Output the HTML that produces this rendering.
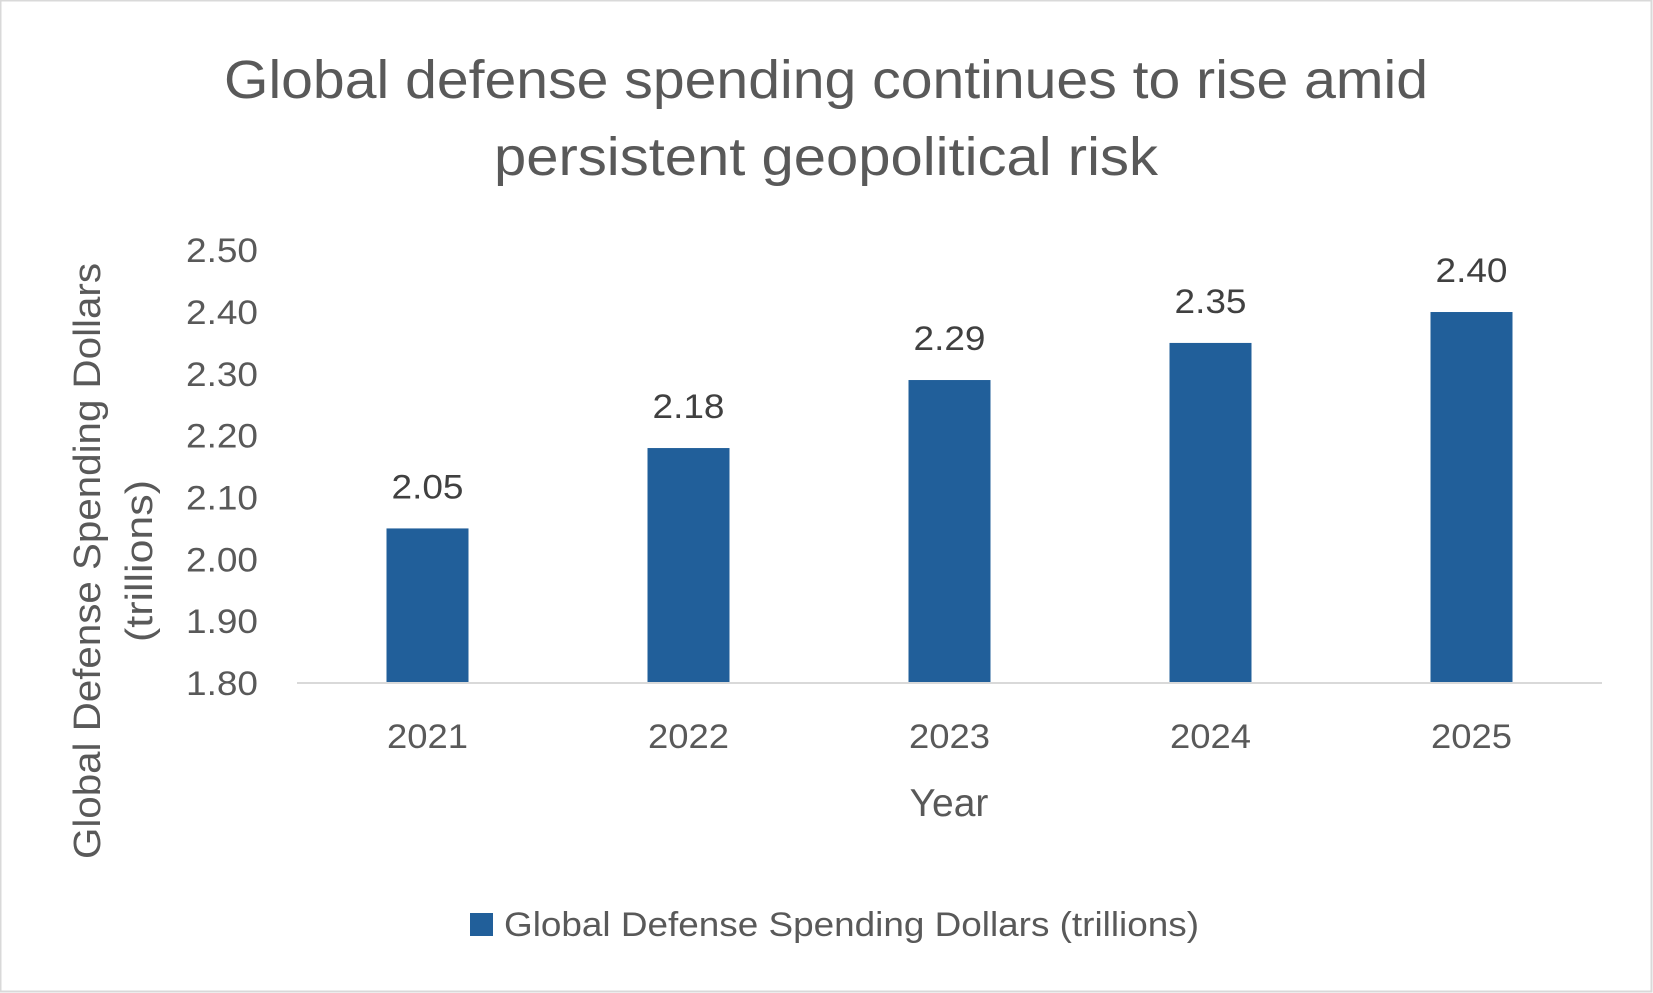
<!DOCTYPE html>
<html><head><meta charset="utf-8"><style>
html,body{margin:0;padding:0;background:#fff;}
svg{display:block;font-family:"Liberation Sans",sans-serif;}
</style></head><body>
<svg id="chart" width="1653" height="993" viewBox="0 0 1653 993">
<rect x="0.5" y="0.5" width="1651" height="991" fill="#fff" stroke="#d9d9d9" stroke-width="2"/>
<text x="826" y="98" text-anchor="middle" font-size="54" fill="#595959" textLength="1204" lengthAdjust="spacingAndGlyphs">Global defense spending continues to rise amid</text>
<text x="826" y="175" text-anchor="middle" font-size="54" fill="#595959" textLength="664" lengthAdjust="spacingAndGlyphs">persistent geopolitical risk</text>
<g id="yticks"></g>
<g id="bars"></g>
<g id="xticks"></g>
<line x1="297" y1="683" x2="1602" y2="683" stroke="#d9d9d9" stroke-width="2"/>
<text x="949" y="816" text-anchor="middle" font-size="39" fill="#595959">Year</text>
<text transform="translate(100,561) rotate(-90)" text-anchor="middle" font-size="38" fill="#595959"><tspan x="0" dy="0" textLength="596" lengthAdjust="spacingAndGlyphs">Global Defense Spending Dollars</tspan><tspan x="0" dy="52" textLength="162" lengthAdjust="spacingAndGlyphs">(trillions)</tspan></text>
<rect x="470" y="913" width="23" height="23" fill="#215f9a"/>
<text x="504" y="936" font-size="34" fill="#595959" textLength="695" lengthAdjust="spacingAndGlyphs">Global Defense Spending Dollars (trillions)</text>
</svg>
<script>
const categories = ["2021","2022","2023","2024","2025"];
const values = [2.05, 2.18, 2.29, 2.35, 2.40];
const valueLabels = ["2.05","2.18","2.29","2.35","2.40"];
const yTicks = [1.80,1.90,2.00,2.10,2.20,2.30,2.40,2.50];
const yTickLabels = ["1.80","1.90","2.00","2.10","2.20","2.30","2.40","2.50"];

const NS = "http://www.w3.org/2000/svg";
const plotLeft = 297, plotRight = 1602, y0 = 683, yMin = 1.8, pxPerUnit = 618.3;
const band = (plotRight - plotLeft) / categories.length;
function yScale(v){ return y0 - (v - yMin) * pxPerUnit; }
function xCenter(i){ return plotLeft + band * (i + 0.5); }
function mk(tag, attrs, txt){
  const e = document.createElementNS(NS, tag);
  for (const k in attrs) e.setAttribute(k, attrs[k]);
  if (txt !== undefined) e.textContent = txt;
  return e;
}
const yg = document.getElementById('yticks');
yTicks.forEach((t, i) => {
  const el = mk('text', {x: 258, y: yScale(t) + 12, 'text-anchor': 'end', 'font-size': 34, fill: '#595959', textLength: 72, lengthAdjust: 'spacingAndGlyphs'}, yTickLabels[i]);
  
  
  yg.appendChild(el);
});
const bg = document.getElementById('bars');
const xg = document.getElementById('xticks');
const bw = 82;
categories.forEach((c, i) => {
  const top = yScale(values[i]);
  const r = mk('rect', {x: xCenter(i) - bw/2, y: top, width: bw, height: y0 - top, fill: '#215f9a'});
  
  
  bg.appendChild(r);
  const l = mk('text', {x: xCenter(i), y: top - 30, 'text-anchor': 'middle', 'font-size': 34, fill: '#404040', textLength: 72, lengthAdjust: 'spacingAndGlyphs'}, valueLabels[i]);
  
  
  bg.appendChild(l);
  const x = mk('text', {x: xCenter(i), y: 748, 'text-anchor': 'middle', 'font-size': 34, fill: '#595959', textLength: 81, lengthAdjust: 'spacingAndGlyphs'}, c);
  
  
  xg.appendChild(x);
});
</script>
</body></html>
